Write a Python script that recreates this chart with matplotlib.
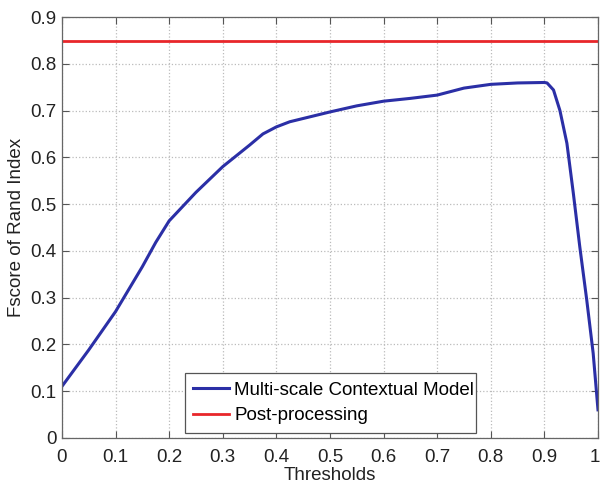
import matplotlib
matplotlib.use("Agg")
import matplotlib.pyplot as plt
from matplotlib.transforms import ScaledTranslation

thresholds = [0.0, 0.05, 0.1, 0.15, 0.175, 0.2, 0.25, 0.3, 0.35, 0.375, 0.4, 0.425, 0.45,
              0.5, 0.55, 0.6, 0.65, 0.7, 0.75, 0.8, 0.85, 0.9, 0.905, 0.917, 0.929,
              0.942, 0.954, 0.966, 0.979, 0.991, 1.0]
fscore = [0.11, 0.188, 0.27, 0.366, 0.418, 0.464, 0.525, 0.58, 0.626, 0.65, 0.665, 0.676,
          0.683, 0.697, 0.71, 0.72, 0.726, 0.733, 0.748, 0.756, 0.759, 0.76, 0.759,
          0.744, 0.70, 0.63, 0.523, 0.409, 0.295, 0.181, 0.06]
post_processing = 0.848

xticks = [0, 0.1, 0.2, 0.3, 0.4, 0.5, 0.6, 0.7, 0.8, 0.9, 1]
xticklabels = ["0", "0.1", "0.2", "0.3", "0.4", "0.5", "0.6", "0.7", "0.8", "0.9", "1"]
yticks = [0, 0.1, 0.2, 0.3, 0.4, 0.5, 0.6, 0.7, 0.8, 0.9]
yticklabels = ["0", "0.1", "0.2", "0.3", "0.4", "0.5", "0.6", "0.7", "0.8", "0.9"]

plt.rcParams['font.family'] = ['Liberation Sans', 'DejaVu Sans']

fig = plt.figure(figsize=(6.01, 4.86), dpi=100)
ax = fig.add_axes([0.103, 0.099, 0.892, 0.866])

ax.plot(thresholds, fscore, color='#2b2fa6', lw=2.2, label='Multi-scale Contextual Model')
ax.axhline(post_processing, color='#e8262a', lw=2.0, label='Post-processing')

ax.set_xlim(0, 1)
ax.set_ylim(0, 0.9)
ax.set_xticks(xticks)
ax.set_xticklabels(xticklabels)
ax.set_yticks(yticks)
ax.set_yticklabels(yticklabels)
ax.tick_params(direction='in', top=True, right=True, labelsize=13.5, colors='#222222',
               length=5, width=0.8, color='#555555')
ax.tick_params(axis='x', pad=8)
ax.tick_params(axis='y', pad=4)
last = ax.get_xticklabels()[-1]
last.set_transform(last.get_transform() + ScaledTranslation(-3 / 100, 0, fig.dpi_scale_trans))
for s in ax.spines.values():
    s.set_color('#666666')
    s.set_linewidth(0.9)
ax.grid(True, linestyle=':', color='#bbbbbb', linewidth=0.9)
ax.set_xlabel('Thresholds', fontsize=13.5, color='#222222', labelpad=1)
ax.set_ylabel('Fscore of Rand Index', fontsize=13.5, color='#222222', labelpad=4)

leg = ax.legend(loc='lower left', bbox_to_anchor=(0.229, 0.012, 0.543, 0.138),
                mode='expand', fontsize=13.5, fancybox=False, framealpha=1,
                edgecolor='#555555', handlelength=1.9, borderaxespad=0,
                borderpad=0.45, labelspacing=0.45, handletextpad=0.3)
leg.get_frame().set_linewidth(0.9)

fig.savefig('out.png', dpi=100)
